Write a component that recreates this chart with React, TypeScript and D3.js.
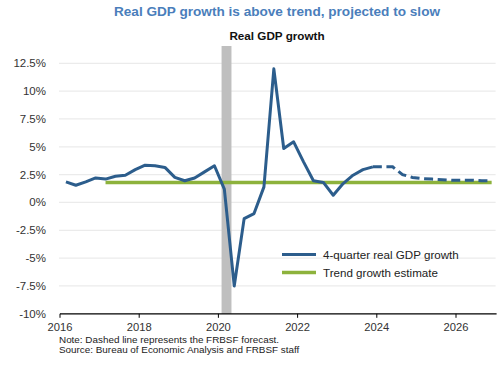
import * as d3 from "d3";

// quarters are "YYYY-Qn"
const actualQuarters = [
	"2016-1", "2016-2", "2016-3", "2016-4",
	"2017-1", "2017-2", "2017-3", "2017-4",
	"2018-1", "2018-2", "2018-3", "2018-4",
	"2019-1", "2019-2", "2019-3", "2019-4",
	"2020-1", "2020-2", "2020-3", "2020-4",
	"2021-1", "2021-2", "2021-3", "2021-4",
	"2022-1", "2022-2", "2022-3", "2022-4",
	"2023-1", "2023-2", "2023-3", "2023-4",
];
const actualGrowth = [
	1.85, 1.55, 1.85, 2.2,
	2.1, 2.35, 2.45, 2.95,
	3.35, 3.3, 3.15, 2.25,
	1.95, 2.2, 2.75, 3.3,
	1.2, -7.5, -1.45, -1.0,
	1.4, 12.0, 4.85, 5.45,
	3.65, 1.95, 1.8, 0.65,
	1.7, 2.45, 2.95, 3.2,
];

const forecastQuarters = [
	"2023-4",
	"2024-1", "2024-2", "2024-3", "2024-4",
	"2025-1", "2025-2", "2025-3", "2025-4",
	"2026-1", "2026-2", "2026-3", "2026-4",
];
const forecastGrowth = [
	3.2,
	3.2, 3.2, 2.5, 2.25,
	2.15, 2.1, 2.05, 2.0,
	2.0, 2.0, 1.95, 1.95,
];

const trendQuarters = ["2017-1", "2026-4"];
const trendGrowth = [1.8, 1.8];

const recession = [2020.08, 2020.33];

const yTicks = [12.5, 10, 7.5, 5, 2.5, 0, -2.5, -5, -7.5, -10];
const xTicks = [2016, 2018, 2020, 2022, 2024, 2026];

const width = 500;
const height = 365;
const margin = { top: 46, right: 5, bottom: 51, left: 60 };

const font = "'Liberation Sans', Arial, Helvetica, sans-serif";
const blue = "#2c5d8c";
const green = "#8db23c";

//turn "2020-2" into a decimal year in the middle of the quarter
const quarterToYear = (q: string) => {
	const [y, n] = q.split("-").map(Number);
	return y + (n - 1) / 4 + 0.15;
};

const App = () => {
	const xScale = d3.scaleLinear().domain([2016, 2027]).range([60, 495.6]);
	const yScale = d3.scaleLinear().domain([-10, 12.5]).range([313.8, 63.3]);

	const line = d3
		.line<[string, number]>()
		.x((d) => xScale(quarterToYear(d[0])))
		.y((d) => yScale(d[1]));

	const actual = line(actualQuarters.map((q, i) => [q, actualGrowth[i]]));
	const forecast = line(forecastQuarters.map((q, i) => [q, forecastGrowth[i]]));
	const trend = line(trendQuarters.map((q, i) => [q, trendGrowth[i]]));

	const [x0, x1] = xScale.range();

	return (
		<svg
			width={width}
			height={height}
			style={{ position: "absolute", left: 0, top: 0, background: "white" }}
			fontFamily={font}
		>
			<rect width={width} height={height} fill="white" />
			<text x={277} y={15.5} textAnchor="middle" fontSize={13.6} fontWeight="bold" fill="#4a7ebb">
				Real GDP growth is above trend, projected to slow
			</text>
			<text x={277} y={39.5} textAnchor="middle" fontSize={11.7} fontWeight="bold" fill="#111">
				Real GDP growth
			</text>

			{/* gridlines */}
			{yTicks
				.filter((t) => t !== -10)
				.map((t) => (
					<line key={t} x1={x0 - 1} x2={x1} y1={yScale(t)} y2={yScale(t)} stroke="#ebebeb" strokeWidth={1.3} />
				))}

			{/* recession band */}
			<rect
				x={xScale(recession[0])}
				width={xScale(recession[1]) - xScale(recession[0])}
				y={margin.top}
				height={yScale(-10) - margin.top}
				fill="#bfbfbf"
			/>

			{/* y labels */}
			{yTicks.map((t) => (
				<text key={t} x={46} y={yScale(t)} dy="0.35em" textAnchor="end" fontSize={11.5} fill="#333">
					{t}%
				</text>
			))}

			{/* x axis */}
			<line x1={x0} x2={x1 + 1} y1={yScale(-10)} y2={yScale(-10)} stroke="#000" strokeWidth={1.3} />
			{xTicks.map((t) => (
				<g key={t}>
					<line x1={xScale(t)} x2={xScale(t)} y1={yScale(-10)} y2={yScale(-10) + 4} stroke="#000" strokeWidth={1} />
					<text x={xScale(t)} y={yScale(-10) + 17} textAnchor="middle" fontSize={11.2} fill="#333">
						{t}
					</text>
				</g>
			))}

			{/* series */}
			<path d={trend ?? ""} fill="none" stroke={green} strokeWidth={3.5} />
			<path d={actual ?? ""} fill="none" stroke={blue} strokeWidth={3} strokeLinejoin="round" />
			<path d={forecast ?? ""} fill="none" stroke={blue} strokeWidth={3} strokeDasharray="9,4.6" />

			{/* legend */}
			<line x1={282} x2={316} y1={254.5} y2={254.5} stroke={blue} strokeWidth={3} />
			<text x={323} y={254.5} dy="0.35em" fontSize={11.6} fill="#222">
				4-quarter real GDP growth
			</text>
			<line x1={282} x2={316} y1={272.5} y2={272.5} stroke={green} strokeWidth={3.5} />
			<text x={323} y={272.5} dy="0.35em" fontSize={11.6} fill="#222">
				Trend growth estimate
			</text>

			{/* notes */}
			<text x={59} y={342.5} fontSize={9.9} fill="#222">
				Note: Dashed line represents the FRBSF forecast.
			</text>
			<text x={59} y={352.5} fontSize={9.9} fill="#222">
				Source: Bureau of Economic Analysis and FRBSF staff
			</text>
		</svg>
	);
};

export default App;
